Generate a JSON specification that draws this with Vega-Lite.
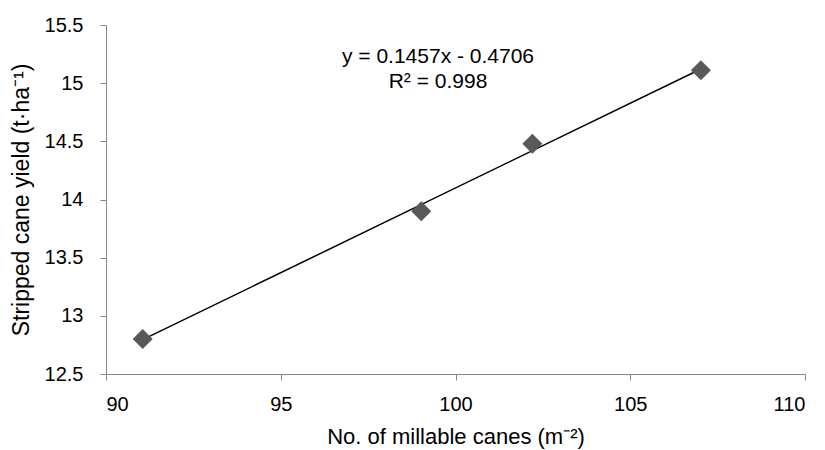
{
  "$schema": "https://vega.github.io/schema/vega-lite/v6.json",
  "width": 699,
  "height": 349,
  "autosize": {"type": "none"},
  "padding": {"left": 106, "top": 25, "right": 20, "bottom": 76},
  "background": "white",
  "config": {
    "view": {"stroke": null},
    "font": "Liberation Sans",
    "axis": {
      "grid": false,
      "domainColor": "#868686",
      "tickColor": "#868686",
      "tickSize": 6,
      "labelFont": "Liberation Sans",
      "labelFontSize": 20,
      "labelColor": "#000000",
      "titleFont": "Liberation Sans",
      "titleFontWeight": "normal",
      "titleColor": "#000000"
    }
  },
  "datasets": {
    "pts": [
      {"canes": 91.05, "yield": 12.8},
      {"canes": 99.02, "yield": 13.9},
      {"canes": 102.2, "yield": 14.48},
      {"canes": 107.02, "yield": 15.11}
    ],
    "trend": [
      {"canes": 91.05, "yield": 12.795},
      {"canes": 107.02, "yield": 15.122}
    ],
    "labels": [
      {"canes": 99.5, "yield": 15.226, "text": "y = 0.1457x - 0.4706"},
      {"canes": 99.5, "yield": 15.01, "text": "R² = 0.998"}
    ]
  },
  "layer": [
    {
      "data": {"name": "trend"},
      "mark": {"type": "line", "color": "#000000", "strokeWidth": 1.5},
      "encoding": {
        "x": {
          "field": "canes", "type": "quantitative",
          "scale": {"domain": [90, 110], "nice": false, "zero": false},
          "axis": {"values": [90, 95, 100, 105, 110], "title": "No. of millable canes (m⁻²)", "titleFontSize": 22, "labelPadding": 14, "titlePadding": 12}
        },
        "y": {
          "field": "yield", "type": "quantitative",
          "scale": {"domain": [12.5, 15.5], "nice": false, "zero": false},
          "axis": {"values": [12.5, 13, 13.5, 14, 14.5, 15, 15.5], "format": "~g", "title": "Stripped cane yield (t·ha⁻¹)", "titleFontSize": 23, "labelPadding": 17, "titlePadding": 11}
        }
      }
    },
    {
      "data": {"name": "pts"},
      "mark": {"type": "point", "shape": "diamond", "filled": true, "color": "#595959", "opacity": 1, "size": 400},
      "encoding": {
        "x": {"field": "canes", "type": "quantitative"},
        "y": {"field": "yield", "type": "quantitative"}
      }
    },
    {
      "data": {"name": "labels"},
      "mark": {"type": "text", "fontSize": 21, "color": "#000000", "align": "center", "baseline": "middle"},
      "encoding": {
        "x": {"field": "canes", "type": "quantitative"},
        "y": {"field": "yield", "type": "quantitative"},
        "text": {"field": "text"}
      }
    }
  ]
}
